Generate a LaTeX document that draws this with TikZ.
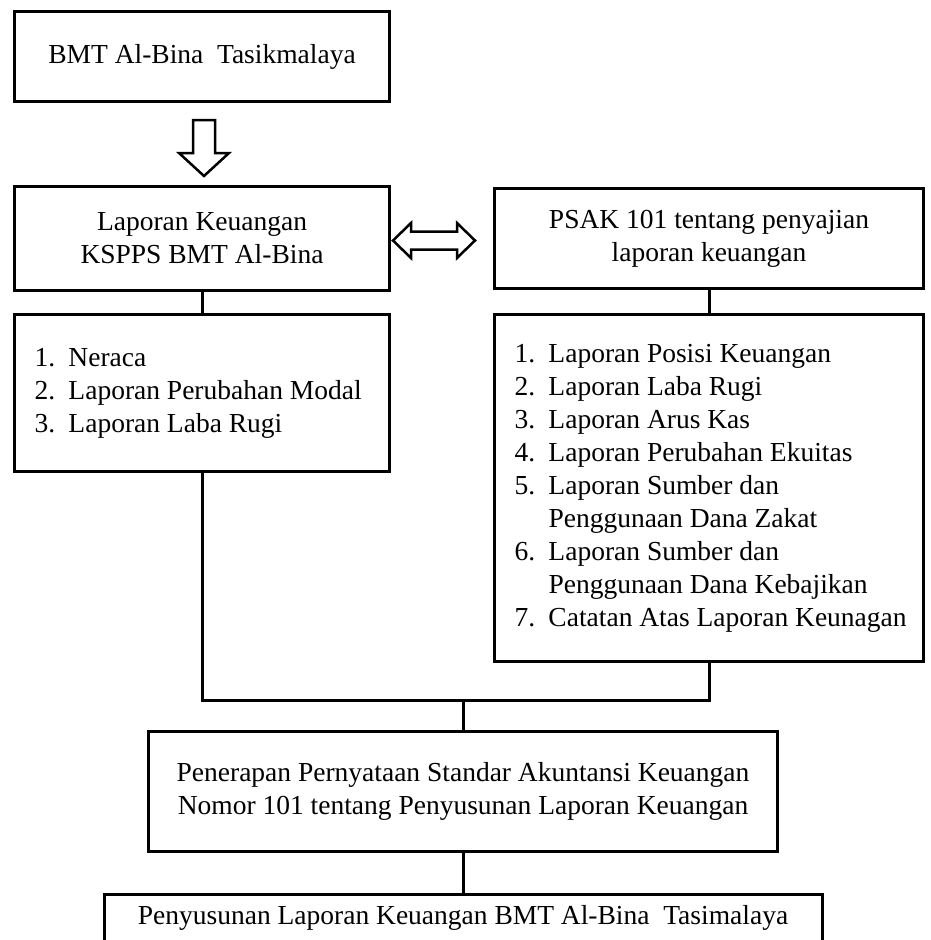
\documentclass[tikz,border=0pt]{standalone}
\usepackage{fontspec}
\setmainfont{Liberation Serif}
\usetikzlibrary{calc}
\begin{document}
\begin{tikzpicture}[x=1pt,y=-1pt,line width=3pt,font=\fontsize{27.5}{33}\selectfont,
	box/.style={draw,anchor=north west,inner sep=0pt,align=center},
	lst/.style={box,align=flush left,inner xsep=20pt,text width=#1},
	hollow/.style={line width=2.5pt,fill=white,line join=miter}]
	\useasboundingbox (0,0) rectangle (930,940);
	\node[box,minimum width=375,minimum height=90] (bmt) at (13,10) {BMT Al-Bina\ \ Tasikmalaya};
	\node[box,minimum width=375,minimum height=104] (lap) at (13,185) {Laporan Keuangan\\KSPPS BMT Al-Bina};
	\node[box,minimum width=429,minimum height=100] (psak) at (493,187) {PSAK 101 tentang penyajian\\laporan keuangan};
	\node[lst=335,minimum width=375,minimum height=157] (neraca) at (13,313) {%
		\makebox[34pt][l]{1.}Neraca\\
		\makebox[34pt][l]{2.}Laporan Perubahan Modal\\
		\makebox[34pt][l]{3.}Laporan Laba Rugi};
	\node[lst=389,minimum width=429,minimum height=347] (psaklist) at (493,313) {%
		\makebox[34pt][l]{1.}Laporan Posisi Keuangan\\
		\makebox[34pt][l]{2.}Laporan Laba Rugi\\
		\makebox[34pt][l]{3.}Laporan Arus Kas\\
		\makebox[34pt][l]{4.}Laporan Perubahan Ekuitas\\
		\makebox[34pt][l]{5.}Laporan Sumber dan\\
		\hspace*{34pt}Penggunaan Dana Zakat\\
		\makebox[34pt][l]{6.}Laporan Sumber dan\\
		\hspace*{34pt}Penggunaan Dana Kebajikan\\
		\makebox[34pt][l]{7.}\mbox{Catatan Atas Laporan Keunagan}};
	\node[box,minimum width=629,minimum height=120] (penerapan) at (147,730) {Penerapan Pernyataan Standar Akuntansi Keuangan\\Nomor 101 tentang Penyusunan Laporan Keuangan};
	\node[box,anchor=north,minimum width=718,inner ysep=6pt,text height=24pt,text depth=60pt] (penyusunan) at (463,893) {Penyusunan Laporan Keuangan BMT Al-Bina\ \ Tasimalaya};
	% block arrows
	\draw[hollow] (bmt.south) ++(2,17) -- ++(11,0) -- ++(0,33) -- ++(14,0) -- ++(-25,23)
		-- ++(-25,-23) -- ++(14,0) -- ++(0,-33) -- cycle;
	\draw[hollow] (lap.east) ++(2,2) -- ++(18,-17.5) -- ++(0,8.5) -- ++(46,0) -- ++(0,-8.5) -- ++(18,17.5)
		-- ++(-18,17.5) -- ++(0,-8.5) -- ++(-46,0) -- ++(0,8.5) -- cycle;
	% connectors
	\coordinate (join) at ($(penerapan.north)+(0,-30)$);
	\foreach \a/\b in {lap/neraca,psak/psaklist,penerapan/penyusunan}{
		\draw (\a.south) -- (\b.north);
	}
	\draw (neraca.south) |- (join) -| (psaklist.south);
	\draw (join) -- (penerapan.north);
\end{tikzpicture}
\end{document}
